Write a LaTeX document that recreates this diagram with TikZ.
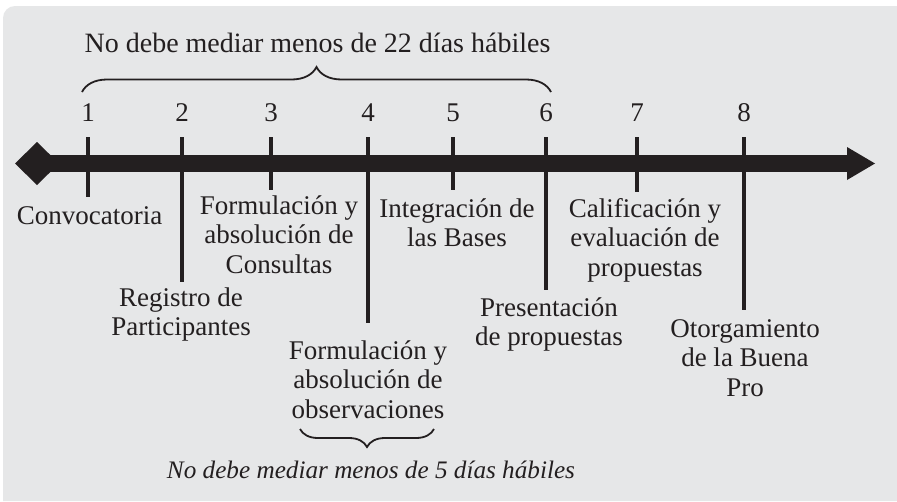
\documentclass[tikz,border=0pt]{standalone}
\usepackage{fontspec}
\setmainfont{Liberation Serif}
\usetikzlibrary{decorations.pathreplacing}
\definecolor{bgc}{HTML}{E6E7E8}
\definecolor{ink}{HTML}{231F20}
\begin{document}
\begin{tikzpicture}[x=1pt,y=1pt,
  lbl/.style={align=center, inner sep=0pt, anchor=north, text=ink, font=\fontsize{27}{29.5}\selectfont},
  num/.style={inner sep=0pt, anchor=base, text=ink, font=\fontsize{27}{29.5}\selectfont},
  tickline/.style={draw=ink, line width=3.5pt},
  bracel/.style={draw=ink, line width=1.8pt, decorate, decoration={brace, amplitude=#1, aspect=0.5}}]
\useasboundingbox (0,0) rectangle (897,-501);
\fill[white] (0,0) rectangle (897,-501);
\fill[bgc] (3,-501) -- (3,-18) arc[start angle=180, end angle=90, radius=12] -- (897,-6) -- (897,-501) -- cycle;
% axis
\fill[ink] (15,-163.5) -- (37,-142) -- (59,-163.5) -- (37,-185) -- cycle;
\fill[ink] (37,-155) rectangle (848,-172);
\fill[ink] (847,-147) -- (875,-163.5) -- (847,-180) -- cycle;
% ticks
\foreach \n/\x/\b in {1/88/197, 2/182/282, 3/271/190, 4/368/323, 5/453/190, 6/546/290, 7/637/192, 8/744/310}{
  \coordinate (t\n a) at (\x,-137);
  \coordinate (t\n b) at (\x,-\b);
  \draw[tickline] (t\n a) -- (t\n b);
  \node[num] (N\n) at (\x,-121) {\n};
}
% labels (top of node = first baseline - 20.65)
\node[lbl] (L1) at (89.5,-203.4) {\strut Convocatoria};
\node[lbl] (L2) at (181,-285.4) {\strut Registro de\\Participantes};
\node[lbl] (L3) at (279,-193.4) {\strut Formulación y\\absolución de\\Consultas};
\node[lbl] (L4) at (368,-338.4) {\strut Formulación y\\absolución de\\observaciones};
\node[lbl] (L5) at (457,-196.4) {\strut Integración de\\las Bases};
\node[lbl] (L6) at (549,-295.4) {\strut Presentación\\de propuestas};
\node[lbl] (L7) at (645,-196.4) {\strut Calificación y\\evaluación de\\propuestas};
\node[lbl] (L8) at (745,-316.4) {\strut Otorgamiento\\de la Buena\\Pro};
% braces
\coordinate (b1a) at (82,-92);
\coordinate (b1b) at (551,-92);
\draw[bracel=25] (b1a) -- (b1b);
\node[num, font=\fontsize{28}{30}\selectfont] (T1) at (317.5,-52) {No debe mediar menos de 22 días hábiles};
\coordinate (b2a) at (434,-429);
\coordinate (b2b) at (300,-429);
\draw[bracel=18] (b2a) -- (b2b);
\node[num, font=\fontsize{25.2}{30}\selectfont\itshape] (T2) at (371,-478) {No debe mediar menos de 5 días hábiles};
\end{tikzpicture}
\end{document}
